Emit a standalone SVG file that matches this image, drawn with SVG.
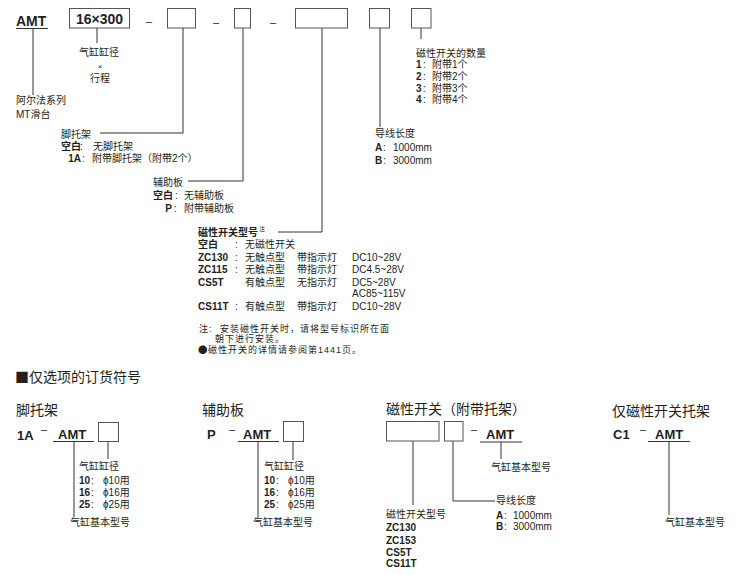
<svg xmlns="http://www.w3.org/2000/svg" width="740" height="575" viewBox="0 0 740 575">
<style>
text{font-family:"Liberation Sans","Noto Sans CJK SC",sans-serif;fill:#231f20;font-size:10px}
.b{font-weight:bold}
.c{font-size:14px}
.code{font-size:13px;font-weight:bold}
.big{font-size:14px;font-weight:bold}
.box{fill:#fff;stroke:#555;stroke-width:1}
.ln{fill:none;stroke:#333;stroke-width:1}
.m{text-anchor:middle}
.e{text-anchor:end}
.d{font-size:11px}
.n{font-size:9px;letter-spacing:1px}
.cjk{font-family:"Noto Sans CJK SC","Liberation Sans",sans-serif}
</style>
<rect width="740" height="575" fill="#fff"/>

<g id="connectors">
<path class="ln" d="M16 28.5H48 M33 28.5V95"/>
<path class="ln" d="M97 28V43"/>
<path class="ln" d="M183 28V133H100"/>
<path class="ln" d="M243 28V181H188"/>
<path class="ln" d="M322 28V232H278"/>
<path class="ln" d="M380 28V127"/>
<path class="ln" d="M421 28V39"/>
<path class="ln" d="M53 441.5H94 M74 441.5V517 M108 441V459"/>
<path class="ln" d="M238 441.5H279 M258 441.5V518 M293 441V460"/>
<path class="ln" d="M480 442H522 M501 442V459 M413 441V505 M453 441V501H495"/>
<path class="ln" d="M648 441.5H690 M669 441.5V515"/>
</g>

<g id="amt">
<text x="16" y="26" class="big">AMT</text>
<text x="16" y="104">阿尔法系列</text>
<text x="16" y="118">MT滑台</text>
</g>

<g id="size">
<rect class="box" x="69.5" y="8.5" width="60" height="19.5"/>
<text x="99.5" y="24" class="big m">16×300</text>
<text x="99" y="56" class="m">气缸缸径</text>
<text x="100" y="69" class="m" style="font-size:8px">×</text>
<text x="100" y="82" class="m">行程</text>
</g>

<g id="dashes">
<text x="149" y="25" class="m d">–</text>
<text x="216" y="26" class="m d">–</text>
<text x="273" y="26" class="m d">–</text>
</g>

<g id="foot">
<rect class="box" x="167.5" y="8.5" width="28" height="19.5"/>
<text x="61" y="138">脚托架</text>
<text x="61" y="150" class="b">空白</text><text x="80" y="150">:</text><text x="93" y="150">无脚托架</text>
<text x="81" y="162" class="b e">1A</text><text x="82" y="162">:</text><text x="92" y="162">附带脚托架（附带2个）</text>
</g>

<g id="aux">
<rect class="box" x="234.5" y="8.5" width="16" height="19.5"/>
<text x="153" y="186">辅助板</text>
<text x="153" y="199" class="b">空白</text><text x="175" y="199">:</text><text x="184" y="199">无辅助板</text>
<text x="172" y="212" class="b e">P</text><text x="174" y="212">:</text><text x="184" y="212">附带辅助板</text>
</g>

<g id="switch">
<rect class="box" x="295.5" y="8.5" width="52" height="19.5"/>
<text x="198" y="236" class="b">磁性开关型号</text><text x="259" y="231" style="font-size:6px">注</text>
<text x="198" y="248" class="b">空白</text><text x="235" y="248">:</text><text x="245" y="248">无磁性开关</text>
<text x="198" y="261" class="b">ZC130</text><text x="235" y="261">:</text><text x="245" y="261">无触点型</text><text x="297" y="261">带指示灯</text><text x="352" y="261">DC10~28V</text>
<text x="198" y="273" class="b">ZC115</text><text x="235" y="273">:</text><text x="245" y="273">无触点型</text><text x="297" y="273">带指示灯</text><text x="352" y="273">DC4.5~28V</text>
<text x="198" y="286" class="b">CS5T</text><text x="245" y="286">有触点型</text><text x="297" y="286">无指示灯</text><text x="352" y="286">DC5~28V</text>
<text x="352" y="297">AC85~115V</text>
<text x="198" y="310" class="b">CS11T</text><text x="235" y="310">:</text><text x="245" y="310">有触点型</text><text x="297" y="310">带指示灯</text><text x="352" y="310">DC10~28V</text>
<text x="199" y="331.5" class="n">注:</text><text x="220" y="331.5" class="n">安装磁性开关时，请将型号标识所在面</text>
<text x="215" y="341.5" class="n">朝下进行安装。</text>
<text x="198" y="352.5" class="cjk" style="font-size:9.5px">●</text><text x="208" y="352.5" class="n">磁性开关的详情请参阅第1441页。</text>
</g>

<g id="lead">
<rect class="box" x="369.5" y="8.5" width="20" height="19.5"/>
<text x="375" y="137">导线长度</text>
<text x="375" y="151" class="b">A</text><text x="383" y="151">:</text><text x="393" y="151">1000mm</text>
<text x="375" y="164" class="b">B</text><text x="383" y="164">:</text><text x="393" y="164">3000mm</text>
</g>

<g id="qty">
<rect class="box" x="411.5" y="8.5" width="19.5" height="19.5"/>
<text x="416" y="57">磁性开关的数量</text>
<text x="416" y="68" class="b">1</text><text x="423" y="68">:</text><text x="432" y="68">附带1个</text>
<text x="416" y="80" class="b">2</text><text x="423" y="80">:</text><text x="432" y="80">附带2个</text>
<text x="416" y="92" class="b">3</text><text x="423" y="92">:</text><text x="432" y="92">附带3个</text>
<text x="416" y="103" class="b">4</text><text x="423" y="103">:</text><text x="432" y="103">附带4个</text>
</g>

<g id="section-title">
<text x="15" y="382" class="c cjk">■仅选项的订货符号</text>
</g>

<g id="opt-foot">
<text x="16" y="415" class="c">脚托架</text>
<text x="17" y="440" class="code">1A</text>
<text x="41" y="433" class="d">–</text>
<text x="58" y="439" class="code">AMT</text>
<rect class="box" x="98.5" y="422.5" width="20" height="19"/>
<text x="79" y="470">气缸缸径</text>
<text x="79" y="484" class="b">10</text><text x="91" y="484">:</text><text x="103" y="484">ϕ10用</text>
<text x="79" y="496" class="b">16</text><text x="91" y="496">:</text><text x="103" y="496">ϕ16用</text>
<text x="79" y="508" class="b">25</text><text x="91" y="508">:</text><text x="103" y="508">ϕ25用</text>
<text x="70" y="526">气缸基本型号</text>
</g>

<g id="opt-aux">
<text x="202" y="415" class="c">辅助板</text>
<text x="207" y="439" class="code">P</text>
<text x="229" y="433" class="d">–</text>
<text x="243" y="439" class="code">AMT</text>
<rect class="box" x="283.5" y="421.5" width="20" height="20"/>
<text x="264" y="470">气缸缸径</text>
<text x="264" y="484" class="b">10</text><text x="276" y="484">:</text><text x="288" y="484">ϕ10用</text>
<text x="264" y="496" class="b">16</text><text x="276" y="496">:</text><text x="288" y="496">ϕ16用</text>
<text x="264" y="508" class="b">25</text><text x="276" y="508">:</text><text x="288" y="508">ϕ25用</text>
<text x="253" y="526">气缸基本型号</text>
</g>

<g id="opt-switch">
<text x="386" y="414" class="c">磁性开关（附带托架）</text>
<rect class="box" x="386.5" y="421.5" width="52.5" height="19.5"/>
<rect class="box" x="444.5" y="421.5" width="18.5" height="19.5"/>
<text x="471" y="433" class="d">–</text>
<text x="486" y="439" class="code">AMT</text>
<text x="491" y="471">气缸基本型号</text>
<text x="496" y="504">导线长度</text>
<text x="496" y="519" class="b">A</text><text x="504" y="519">:</text><text x="513" y="519">1000mm</text>
<text x="496" y="530" class="b">B</text><text x="504" y="530">:</text><text x="513" y="530">3000mm</text>
<text x="386" y="518">磁性开关型号</text>
<text x="386" y="531" class="b">ZC130</text>
<text x="386" y="544" class="b">ZC153</text>
<text x="386" y="556" class="b">CS5T</text>
<text x="386" y="567" class="b">CS11T</text>
</g>

<g id="opt-bracket">
<text x="612" y="416" class="c">仅磁性开关托架</text>
<text x="613" y="439" class="code">C1</text>
<text x="640" y="433" class="d">–</text>
<text x="655" y="439" class="code">AMT</text>
<text x="665" y="526">气缸基本型号</text>
</g>
</svg>
